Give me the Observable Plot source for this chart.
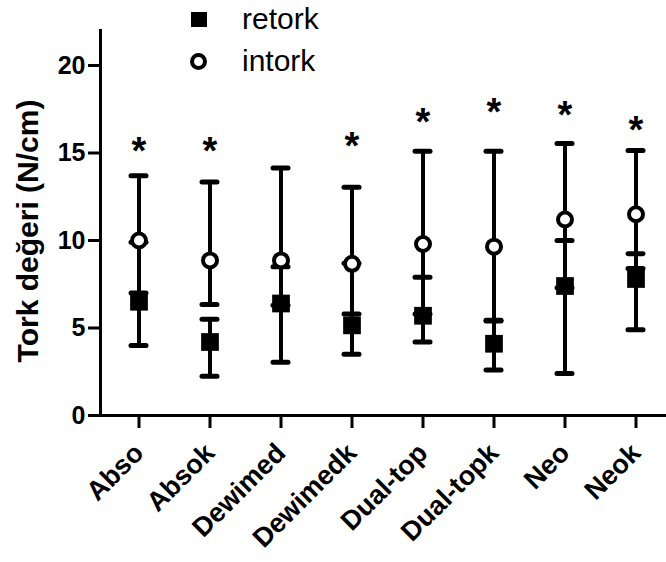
<!DOCTYPE html>
<html>
<head>
<meta charset="utf-8">
<script src="https://cdn.jsdelivr.net/npm/d3@7"></script>
<script src="https://cdn.jsdelivr.net/npm/@observablehq/plot@0.6"></script>
<style>
  html, body { margin: 0; padding: 0; background: #fff; }
  #wrap { position: relative; width: 666px; height: 562px; font-family: "Liberation Sans", Arial, sans-serif; }
  #legend { position: absolute; left: 0; top: 0; }
  .lg-item { position: absolute; font-size: 30px; line-height: 30px; color: #000; white-space: nowrap; }
  .sq { position: absolute; width: 16px; height: 15px; background: #000; }
  .ci { position: absolute; width: 9px; height: 9px; border: 4.5px solid #000; border-radius: 50%; background: #fff; }
  svg g[aria-label="y-axis tick label"] text, svg g[aria-label="x-axis tick label"] text { font-weight: bold; }
</style>
</head>
<body>
<div id="wrap"></div>
<script>
// ---- data ----
const groups = ["Abso", "Absok", "Dewimed", "Dewimedk", "Dual-top", "Dual-topk", "Neo", "Neok"];
const seriesNames = ["retork", "intork"];
const retorkMean = [6.5, 4.2, 6.4, 5.15, 5.7, 4.1, 7.4, 7.8];
const retorkLow  = [4.0, 2.25, 3.05, 3.5, 4.2, 2.6, 2.4, 4.9];
const retorkHigh = [9.9, 5.5, 8.5, 8.7, 7.9, 5.4, 10.0, 9.25];
const intorkMean = [10.0, 8.86, 8.86, 8.67, 9.8, 9.65, 11.2, 11.5];
const intorkLow  = [7.0, 6.35, 6.3, 5.8, 5.8, 5.45, 7.3, 8.4];
const intorkHigh = [13.7, 13.35, 14.15, 13.05, 15.1, 15.1, 15.55, 15.15];
const starLevel  = [15.66, 15.66, null, 15.94, 17.31, 17.89, 17.71, 16.86];
const yTicks = [0, 5, 10, 15, 20];
const yLabel = "Tork değeri (N/cm)";

const retork = groups.map((g, i) => ({group: g, mean: retorkMean[i], low: retorkLow[i], high: retorkHigh[i]}));
const intork = groups.map((g, i) => ({group: g, mean: intorkMean[i], low: intorkLow[i], high: intorkHigh[i]}));
const stars = groups.map((g, i) => ({group: g, level: starLevel[i]})).filter(d => d.level != null);

const capInset = 28;
const chart = Plot.plot({
  width: 666,
  height: 562,
  marginLeft: 100,
  marginRight: 0,
  marginTop: 30,
  marginBottom: 147,
  style: {fontFamily: '"Liberation Sans", Arial, sans-serif', background: "white", color: "black", overflow: "visible"},
  x: {type: "band", domain: groups, range: [101.3, 672.7], padding: 0, label: null},
  y: {domain: [0, 22], label: null},
  marks: [
    Plot.frame({anchor: "left", strokeWidth: 3, stroke: "black"}),
    Plot.ruleY([0], {strokeWidth: 3, stroke: "black"}),
    Plot.axisY({ticks: yTicks, tickSize: 12, tickPadding: 3, fontSize: 25, strokeWidth: 3, label: null}),
    Plot.axisX({tickRotate: -45, tickSize: 13, tickPadding: 20, fontSize: 27, strokeWidth: 3, label: null}),
    Plot.text([yLabel], {frameAnchor: "left", textAnchor: "middle", rotate: -90, dx: -72, dy: 8, fontSize: 30, fontWeight: "bold", text: d => d}),
    // error bars
    Plot.ruleX(intork, {x: "group", y1: "low", y2: "high", strokeWidth: 4, stroke: "black"}),
    Plot.tickY(intork, {x: "group", y: "high", strokeWidth: 5, strokeLinecap: "round", insetLeft: capInset, insetRight: capInset}),
    Plot.tickY(intork, {x: "group", y: "low", strokeWidth: 5, strokeLinecap: "round", insetLeft: capInset, insetRight: capInset}),
    Plot.ruleX(retork, {x: "group", y1: "low", y2: "high", strokeWidth: 4, stroke: "black"}),
    Plot.tickY(retork, {x: "group", y: "high", strokeWidth: 5, strokeLinecap: "round", insetLeft: capInset, insetRight: capInset}),
    Plot.tickY(retork, {x: "group", y: "low", strokeWidth: 5, strokeLinecap: "round", insetLeft: capInset, insetRight: capInset}),
    // points
    Plot.dot(intork, {x: "group", y: "mean", r: 7, stroke: "black", strokeWidth: 4, fill: "white"}),
    Plot.dot(retork, {x: "group", y: "mean", symbol: "square", r: 10, fill: "black", stroke: "none"}),
    // significance
    Plot.text(stars, {x: "group", y: "level", text: () => "*", fontSize: 38, fontWeight: "bold", dy: 10})
  ]
});

const wrap = document.getElementById("wrap");
wrap.appendChild(chart);
const legend = document.createElement("div");
legend.id = "legend";
legend.innerHTML =
  `<div class="sq" style="left:191px;top:12px"></div>` +
  `<div class="lg-item" style="left:242px;top:4px">${seriesNames[0]}</div>` +
  `<div class="ci" style="left:190px;top:53px"></div>` +
  `<div class="lg-item" style="left:242px;top:46px">${seriesNames[1]}</div>`;
wrap.appendChild(legend);
</script>
</body>
</html>
